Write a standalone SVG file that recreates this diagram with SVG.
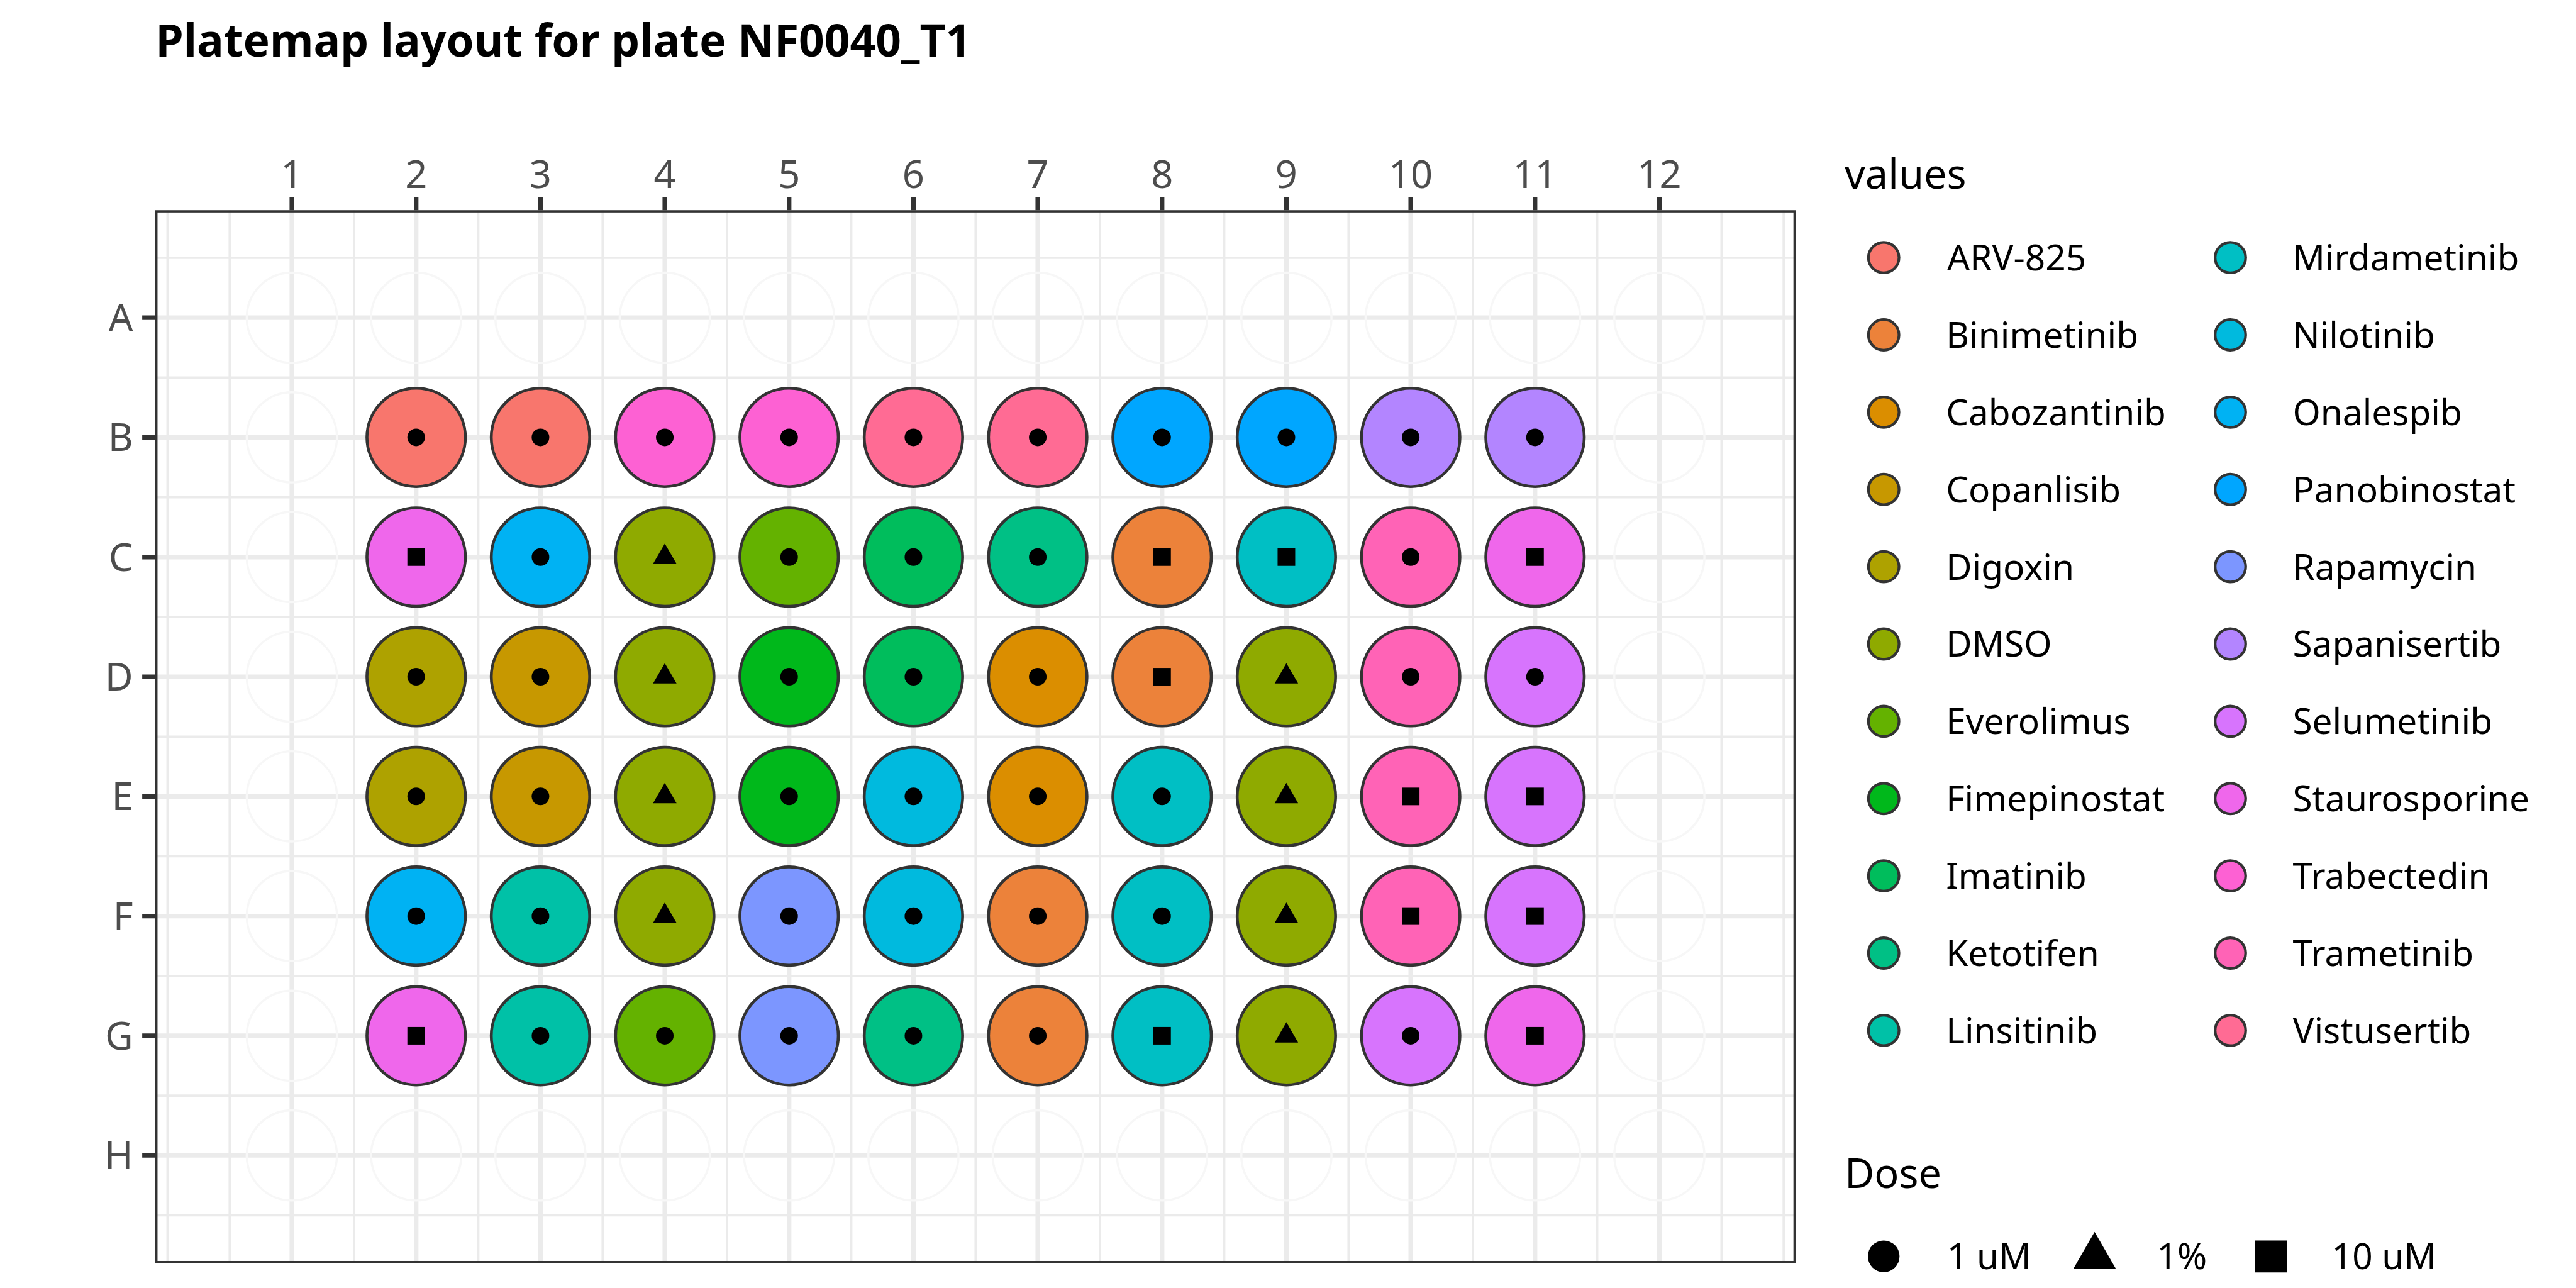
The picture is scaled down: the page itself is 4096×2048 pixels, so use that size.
<svg xmlns="http://www.w3.org/2000/svg" xmlns:xlink="http://www.w3.org/1999/xlink" width="4096" height="2048" viewBox="0 0 4096 2048">
<style>
text{font-family:"Noto Sans","Open Sans","DejaVu Sans",sans-serif}
.title{font-size:83.5px;font-weight:bold;fill:#000}
.ax{font-size:72px;fill:#4D4D4D}
.ltitle{font-size:76px;fill:#000}
.lt{font-size:66.5px;fill:#000}
.gmaj{stroke:#EBEBEB;stroke-width:8.5;fill:none}
.gmin{stroke:#EBEBEB;stroke-width:4.25;fill:none}
.tick{stroke:#333333;stroke-width:8.5;fill:none}
.fw{fill:none;stroke:#F7F7F7;stroke-width:4}
.w{stroke:#333333;stroke-width:5.4}
.k{stroke:#333333;stroke-width:5}
.arv{fill:#F8766D}.bin{fill:#EC823A}.cab{fill:#DB8E00}.cop{fill:#C79800}.dig{fill:#AEA200}.dmso{fill:#8FAA00}
.eve{fill:#64B200}.fim{fill:#00B81B}.ima{fill:#00BD5C}.ket{fill:#00C085}.lin{fill:#00C1A7}.mir{fill:#00BFC4}
.nil{fill:#00BADE}.ona{fill:#00B2F3}.pan{fill:#00A6FF}.rap{fill:#7C96FF}.sap{fill:#B385FF}.sel{fill:#D774FD}
.sta{fill:#EF67EB}.trab{fill:#FD61D3}.tram{fill:#FF63B6}.vis{fill:#FF6B94}
</style>
<defs>
<circle id="fw" r="84" class="fw"/>
<circle id="dot" r="16.4" fill="#000"/>
<rect id="sq" x="-16.4" y="-16.4" width="32.8" height="32.8" fill="#000"/>
<path id="tri" d="M0,-25.3L21.9,12.65L-21.9,12.65Z" fill="#000"/>
</defs>
<rect width="4096" height="2048" fill="#fff"/>
<g transform="scale(0.853333)">
<text class="title" x="290" y="105">Platemap layout for plate NF0040_T1</text>

<g id="panel">
<rect x="289.3" y="391.7" width="3056.7" height="1962.1" fill="#fff"/>
<path class="gmin" d="M312.15,391.7V2353.8M427.98,391.7V2353.8M659.63,391.7V2353.8M891.28,391.7V2353.8M1122.93,391.7V2353.8M1354.58,391.7V2353.8M1586.23,391.7V2353.8M1817.88,391.7V2353.8M2049.53,391.7V2353.8M2281.18,391.7V2353.8M2512.83,391.7V2353.8M2744.48,391.7V2353.8M2976.13,391.7V2353.8M3207.78,391.7V2353.8M3323.6,391.7V2353.8M289.3,480.5H3346M289.3,703.5H3346M289.3,926.5H3346M289.3,1149.5H3346M289.3,1372.5H3346M289.3,1595.5H3346M289.3,1818.5H3346M289.3,2041.5H3346M289.3,2264.5H3346"/>
<path class="gmaj" d="M543.8,391.7V2353.8M775.45,391.7V2353.8M1007.1,391.7V2353.8M1238.75,391.7V2353.8M1470.4,391.7V2353.8M1702.05,391.7V2353.8M1933.7,391.7V2353.8M2165.35,391.7V2353.8M2397,391.7V2353.8M2628.65,391.7V2353.8M2860.3,391.7V2353.8M3091.95,391.7V2353.8M289.3,592H3346M289.3,815H3346M289.3,1038H3346M289.3,1261H3346M289.3,1484H3346M289.3,1707H3346M289.3,1930H3346M289.3,2153H3346"/>
</g>

<g id="empty-wells">
<use href="#fw" x="543.8" y="592"/><use href="#fw" x="775.45" y="592"/><use href="#fw" x="1007.1" y="592"/><use href="#fw" x="1238.75" y="592"/><use href="#fw" x="1470.4" y="592"/><use href="#fw" x="1702.05" y="592"/><use href="#fw" x="1933.7" y="592"/><use href="#fw" x="2165.35" y="592"/><use href="#fw" x="2397" y="592"/><use href="#fw" x="2628.65" y="592"/><use href="#fw" x="2860.3" y="592"/><use href="#fw" x="3091.95" y="592"/>
<use href="#fw" x="543.8" y="815"/><use href="#fw" x="3091.95" y="815"/>
<use href="#fw" x="543.8" y="1038"/><use href="#fw" x="3091.95" y="1038"/>
<use href="#fw" x="543.8" y="1261"/><use href="#fw" x="3091.95" y="1261"/>
<use href="#fw" x="543.8" y="1484"/><use href="#fw" x="3091.95" y="1484"/>
<use href="#fw" x="543.8" y="1707"/><use href="#fw" x="3091.95" y="1707"/>
<use href="#fw" x="543.8" y="1930"/><use href="#fw" x="3091.95" y="1930"/>
<use href="#fw" x="543.8" y="2153"/><use href="#fw" x="775.45" y="2153"/><use href="#fw" x="1007.1" y="2153"/><use href="#fw" x="1238.75" y="2153"/><use href="#fw" x="1470.4" y="2153"/><use href="#fw" x="1702.05" y="2153"/><use href="#fw" x="1933.7" y="2153"/><use href="#fw" x="2165.35" y="2153"/><use href="#fw" x="2397" y="2153"/><use href="#fw" x="2628.65" y="2153"/><use href="#fw" x="2860.3" y="2153"/><use href="#fw" x="3091.95" y="2153"/>
</g>

<g id="wells">
<g id="well-B2" transform="translate(775.45,815)"><circle class="w arv" r="91.7"/><use href="#dot"/></g>
<g id="well-B3" transform="translate(1007.1,815)"><circle class="w arv" r="91.7"/><use href="#dot"/></g>
<g id="well-B4" transform="translate(1238.75,815)"><circle class="w trab" r="91.7"/><use href="#dot"/></g>
<g id="well-B5" transform="translate(1470.4,815)"><circle class="w trab" r="91.7"/><use href="#dot"/></g>
<g id="well-B6" transform="translate(1702.05,815)"><circle class="w vis" r="91.7"/><use href="#dot"/></g>
<g id="well-B7" transform="translate(1933.7,815)"><circle class="w vis" r="91.7"/><use href="#dot"/></g>
<g id="well-B8" transform="translate(2165.35,815)"><circle class="w pan" r="91.7"/><use href="#dot"/></g>
<g id="well-B9" transform="translate(2397,815)"><circle class="w pan" r="91.7"/><use href="#dot"/></g>
<g id="well-B10" transform="translate(2628.65,815)"><circle class="w sap" r="91.7"/><use href="#dot"/></g>
<g id="well-B11" transform="translate(2860.3,815)"><circle class="w sap" r="91.7"/><use href="#dot"/></g>

<g id="well-C2" transform="translate(775.45,1038)"><circle class="w sta" r="91.7"/><use href="#sq"/></g>
<g id="well-C3" transform="translate(1007.1,1038)"><circle class="w ona" r="91.7"/><use href="#dot"/></g>
<g id="well-C4" transform="translate(1238.75,1038)"><circle class="w dmso" r="91.7"/><use href="#tri"/></g>
<g id="well-C5" transform="translate(1470.4,1038)"><circle class="w eve" r="91.7"/><use href="#dot"/></g>
<g id="well-C6" transform="translate(1702.05,1038)"><circle class="w ima" r="91.7"/><use href="#dot"/></g>
<g id="well-C7" transform="translate(1933.7,1038)"><circle class="w ket" r="91.7"/><use href="#dot"/></g>
<g id="well-C8" transform="translate(2165.35,1038)"><circle class="w bin" r="91.7"/><use href="#sq"/></g>
<g id="well-C9" transform="translate(2397,1038)"><circle class="w mir" r="91.7"/><use href="#sq"/></g>
<g id="well-C10" transform="translate(2628.65,1038)"><circle class="w tram" r="91.7"/><use href="#dot"/></g>
<g id="well-C11" transform="translate(2860.3,1038)"><circle class="w sta" r="91.7"/><use href="#sq"/></g>

<g id="well-D2" transform="translate(775.45,1261)"><circle class="w dig" r="91.7"/><use href="#dot"/></g>
<g id="well-D3" transform="translate(1007.1,1261)"><circle class="w cop" r="91.7"/><use href="#dot"/></g>
<g id="well-D4" transform="translate(1238.75,1261)"><circle class="w dmso" r="91.7"/><use href="#tri"/></g>
<g id="well-D5" transform="translate(1470.4,1261)"><circle class="w fim" r="91.7"/><use href="#dot"/></g>
<g id="well-D6" transform="translate(1702.05,1261)"><circle class="w ima" r="91.7"/><use href="#dot"/></g>
<g id="well-D7" transform="translate(1933.7,1261)"><circle class="w cab" r="91.7"/><use href="#dot"/></g>
<g id="well-D8" transform="translate(2165.35,1261)"><circle class="w bin" r="91.7"/><use href="#sq"/></g>
<g id="well-D9" transform="translate(2397,1261)"><circle class="w dmso" r="91.7"/><use href="#tri"/></g>
<g id="well-D10" transform="translate(2628.65,1261)"><circle class="w tram" r="91.7"/><use href="#dot"/></g>
<g id="well-D11" transform="translate(2860.3,1261)"><circle class="w sel" r="91.7"/><use href="#dot"/></g>

<g id="well-E2" transform="translate(775.45,1484)"><circle class="w dig" r="91.7"/><use href="#dot"/></g>
<g id="well-E3" transform="translate(1007.1,1484)"><circle class="w cop" r="91.7"/><use href="#dot"/></g>
<g id="well-E4" transform="translate(1238.75,1484)"><circle class="w dmso" r="91.7"/><use href="#tri"/></g>
<g id="well-E5" transform="translate(1470.4,1484)"><circle class="w fim" r="91.7"/><use href="#dot"/></g>
<g id="well-E6" transform="translate(1702.05,1484)"><circle class="w nil" r="91.7"/><use href="#dot"/></g>
<g id="well-E7" transform="translate(1933.7,1484)"><circle class="w cab" r="91.7"/><use href="#dot"/></g>
<g id="well-E8" transform="translate(2165.35,1484)"><circle class="w mir" r="91.7"/><use href="#dot"/></g>
<g id="well-E9" transform="translate(2397,1484)"><circle class="w dmso" r="91.7"/><use href="#tri"/></g>
<g id="well-E10" transform="translate(2628.65,1484)"><circle class="w tram" r="91.7"/><use href="#sq"/></g>
<g id="well-E11" transform="translate(2860.3,1484)"><circle class="w sel" r="91.7"/><use href="#sq"/></g>

<g id="well-F2" transform="translate(775.45,1707)"><circle class="w ona" r="91.7"/><use href="#dot"/></g>
<g id="well-F3" transform="translate(1007.1,1707)"><circle class="w lin" r="91.7"/><use href="#dot"/></g>
<g id="well-F4" transform="translate(1238.75,1707)"><circle class="w dmso" r="91.7"/><use href="#tri"/></g>
<g id="well-F5" transform="translate(1470.4,1707)"><circle class="w rap" r="91.7"/><use href="#dot"/></g>
<g id="well-F6" transform="translate(1702.05,1707)"><circle class="w nil" r="91.7"/><use href="#dot"/></g>
<g id="well-F7" transform="translate(1933.7,1707)"><circle class="w bin" r="91.7"/><use href="#dot"/></g>
<g id="well-F8" transform="translate(2165.35,1707)"><circle class="w mir" r="91.7"/><use href="#dot"/></g>
<g id="well-F9" transform="translate(2397,1707)"><circle class="w dmso" r="91.7"/><use href="#tri"/></g>
<g id="well-F10" transform="translate(2628.65,1707)"><circle class="w tram" r="91.7"/><use href="#sq"/></g>
<g id="well-F11" transform="translate(2860.3,1707)"><circle class="w sel" r="91.7"/><use href="#sq"/></g>

<g id="well-G2" transform="translate(775.45,1930)"><circle class="w sta" r="91.7"/><use href="#sq"/></g>
<g id="well-G3" transform="translate(1007.1,1930)"><circle class="w lin" r="91.7"/><use href="#dot"/></g>
<g id="well-G4" transform="translate(1238.75,1930)"><circle class="w eve" r="91.7"/><use href="#dot"/></g>
<g id="well-G5" transform="translate(1470.4,1930)"><circle class="w rap" r="91.7"/><use href="#dot"/></g>
<g id="well-G6" transform="translate(1702.05,1930)"><circle class="w ket" r="91.7"/><use href="#dot"/></g>
<g id="well-G7" transform="translate(1933.7,1930)"><circle class="w bin" r="91.7"/><use href="#dot"/></g>
<g id="well-G8" transform="translate(2165.35,1930)"><circle class="w mir" r="91.7"/><use href="#sq"/></g>
<g id="well-G9" transform="translate(2397,1930)"><circle class="w dmso" r="91.7"/><use href="#tri"/></g>
<g id="well-G10" transform="translate(2628.65,1930)"><circle class="w sel" r="91.7"/><use href="#dot"/></g>
<g id="well-G11" transform="translate(2860.3,1930)"><circle class="w sta" r="91.7"/><use href="#sq"/></g>
</g>

<rect id="panel-border" x="291.4" y="393.8" width="3052.5" height="1957.9" fill="none" stroke="#333333" stroke-width="4.2"/>

<g id="axes">
<path class="tick" d="M543.8,367.5V391.7M775.45,367.5V391.7M1007.1,367.5V391.7M1238.75,367.5V391.7M1470.4,367.5V391.7M1702.05,367.5V391.7M1933.7,367.5V391.7M2165.35,367.5V391.7M2397,367.5V391.7M2628.65,367.5V391.7M2860.3,367.5V391.7M3091.95,367.5V391.7M265,592H289.3M265,815H289.3M265,1038H289.3M265,1261H289.3M265,1484H289.3M265,1707H289.3M265,1930H289.3M265,2153H289.3"/>
<g text-anchor="middle">
<text class="ax" x="543.8" y="350">1</text><text class="ax" x="775.45" y="350">2</text><text class="ax" x="1007.1" y="350">3</text><text class="ax" x="1238.75" y="350">4</text><text class="ax" x="1470.4" y="350">5</text><text class="ax" x="1702.05" y="350">6</text><text class="ax" x="1933.7" y="350">7</text><text class="ax" x="2165.35" y="350">8</text><text class="ax" x="2397" y="350">9</text><text class="ax" x="2628.65" y="350">10</text><text class="ax" x="2860.3" y="350">11</text><text class="ax" x="3091.95" y="350">12</text>
</g>
<g text-anchor="end">
<text class="ax" x="248" y="617.7">A</text><text class="ax" x="248" y="840.7">B</text><text class="ax" x="248" y="1063.7">C</text><text class="ax" x="248" y="1286.7">D</text><text class="ax" x="248" y="1509.7">E</text><text class="ax" x="248" y="1732.7">F</text><text class="ax" x="248" y="1955.7">G</text><text class="ax" x="248" y="2178.7">H</text>
</g>
</g>

<g id="legend-values">
<text class="ltitle" x="3437" y="352">values</text>
<circle class="k arv" cx="3510" cy="480" r="28.5"/><text class="lt" x="3628" y="504">ARV-825</text>
<circle class="k bin" cx="3510" cy="624" r="28.5"/><text class="lt" x="3626" y="648">Binimetinib</text>
<circle class="k cab" cx="3510" cy="768" r="28.5"/><text class="lt" x="3626" y="792">Cabozantinib</text>
<circle class="k cop" cx="3510" cy="912" r="28.5"/><text class="lt" x="3626" y="936">Copanlisib</text>
<circle class="k dig" cx="3510" cy="1056" r="28.5"/><text class="lt" x="3626" y="1080">Digoxin</text>
<circle class="k dmso" cx="3510" cy="1200" r="28.5"/><text class="lt" x="3626" y="1224">DMSO</text>
<circle class="k eve" cx="3510" cy="1344" r="28.5"/><text class="lt" x="3626" y="1368">Everolimus</text>
<circle class="k fim" cx="3510" cy="1488" r="28.5"/><text class="lt" x="3626" y="1512">Fimepinostat</text>
<circle class="k ima" cx="3510" cy="1632" r="28.5"/><text class="lt" x="3626" y="1656">Imatinib</text>
<circle class="k ket" cx="3510" cy="1776" r="28.5"/><text class="lt" x="3626" y="1800">Ketotifen</text>
<circle class="k lin" cx="3510" cy="1920" r="28.5"/><text class="lt" x="3626" y="1944">Linsitinib</text>
<circle class="k mir" cx="4156" cy="480" r="28.5"/><text class="lt" x="4272" y="504">Mirdametinib</text>
<circle class="k nil" cx="4156" cy="624" r="28.5"/><text class="lt" x="4272" y="648">Nilotinib</text>
<circle class="k ona" cx="4156" cy="768" r="28.5"/><text class="lt" x="4272" y="792">Onalespib</text>
<circle class="k pan" cx="4156" cy="912" r="28.5"/><text class="lt" x="4272" y="936">Panobinostat</text>
<circle class="k rap" cx="4156" cy="1056" r="28.5"/><text class="lt" x="4272" y="1080">Rapamycin</text>
<circle class="k sap" cx="4156" cy="1200" r="28.5"/><text class="lt" x="4272" y="1224">Sapanisertib</text>
<circle class="k sel" cx="4156" cy="1344" r="28.5"/><text class="lt" x="4272" y="1368">Selumetinib</text>
<circle class="k sta" cx="4156" cy="1488" r="28.5"/><text class="lt" x="4272" y="1512">Staurosporine</text>
<circle class="k trab" cx="4156" cy="1632" r="28.5"/><text class="lt" x="4272" y="1656">Trabectedin</text>
<circle class="k tram" cx="4156" cy="1776" r="28.5"/><text class="lt" x="4272" y="1800">Trametinib</text>
<circle class="k vis" cx="4156" cy="1920" r="28.5"/><text class="lt" x="4272" y="1944">Vistusertib</text>
</g>

<g id="legend-dose">
<text class="ltitle" x="3437" y="2214">Dose</text>
<circle cx="3510" cy="2341" r="29.5" fill="#000"/><text class="lt" x="3628" y="2365">1 uM</text>
<path d="M3903,2295.5L3942.5,2364L3863.5,2364Z" fill="#000"/><text class="lt" x="4019" y="2365">1%</text>
<rect x="4201.5" y="2311.5" width="59.5" height="59.5" fill="#000"/><text class="lt" x="4345" y="2365">10 uM</text>
</g>
</g>
</svg>
